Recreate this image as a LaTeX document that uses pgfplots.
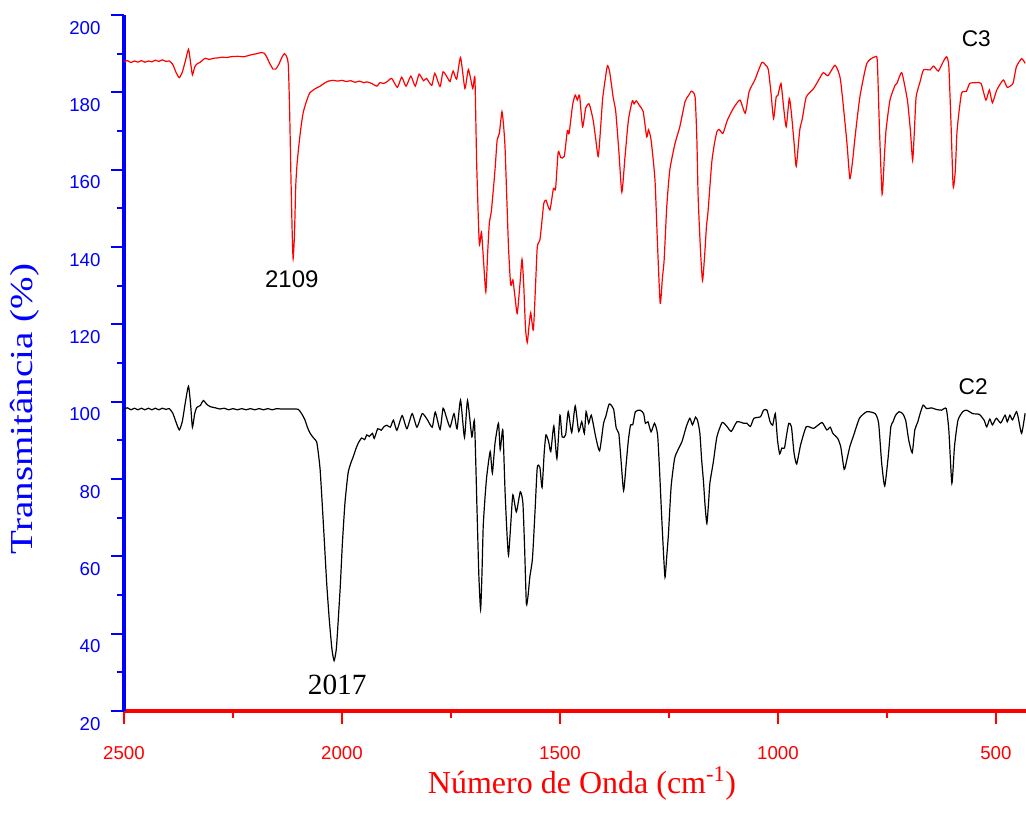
\documentclass[border=0pt]{standalone}
\usepackage{pgfplots}
\pgfplotsset{compat=1.18}
\usepackage{fontspec}
\setmainfont{Liberation Serif}
\newfontfamily\arial{Liberation Sans}
\begin{document}
\begin{tikzpicture}
\useasboundingbox (-93pt,-77.25pt) rectangle (676.5pt,533.25pt);
\begin{axis}[
  at={(0,0)}, anchor=south west,
  scale only axis, width=676.5pt, height=522pt,
  x dir=reverse,
  xmin=431, xmax=2500, ymin=20, ymax=200,
  axis x line=bottom, axis y line=left,
  x axis line style={-, red, line width=2.5pt},
  y axis line style={-, blue, line width=2.5pt},
  xtick={500,1000,1500,2000,2500}, minor x tick num=1,
  ytick={20,40,...,200}, minor y tick num=1,
  tick align=outside,
  major tick length=9.75pt, minor tick length=5.25pt,
  x tick style={red, line width=1.7pt},
  y tick style={blue, line width=1.7pt},
  /pgf/number format/assume math mode=true,
  /pgf/number format/1000 sep={},
  xticklabel style={font=\arial\fontsize{14}{14}\selectfont, red, anchor=north, inner sep=0pt, yshift=-16.5pt},
  yticklabel style={font=\arial\fontsize{14}{14}\selectfont, blue, anchor=north east, inner sep=0pt, xshift=-7.7pt, yshift=-4.5pt},
  every axis x label/.style={at={(axis description cs:0.5078,-0.1035)}, anchor=center, font=\fontsize{24}{24}\selectfont, red},
  every axis y label/.style={at={(axis description cs:-0.1098,0.4339)}, anchor=center, rotate=90, font=\fontsize{24}{24}\selectfont, blue},
  xlabel={Número de Onda (cm\textsuperscript{-1})},
  ylabel={\scalebox{1.22}[1]{Transmitância (\%)}},
  clip=false,
]
\addplot[red, line width=0.9pt, smooth, tension=0.35] coordinates {
(2500,187.9) (2492,188.2) (2484,187.7) (2476,188.1) (2468,187.8) (2460,188.2) (2452,187.8) (2444,188.1) (2436,187.9) (2428,188.3) (2420,188.0) (2412,188.4) (2404,188.0) (2396,188.1) (2388,187.2) (2380,185.0) (2373,183.8) (2366,185.3) (2359,188.2) (2352,191.1) (2347,187.5) (2343,184.5) (2338,186.5) (2333,187.3) (2325,187.8) (2314,188.8) (2305,188.5) (2295,188.8) (2285,188.9) (2275,189.1) (2265,189.0) (2255,189.2) (2245,189.3) (2235,189.3) (2225,189.2) (2215,189.5) (2205,189.8) (2195,190.0) (2185,190.3) (2178,190.1) (2172,189.0) (2165,187.3) (2158,186.0) (2152,186.0) (2145,187.2) (2138,189.0) (2132,190.0) (2127,189.3) (2123,187.0) (2120,175.0) (2117,158.0) (2114,143.0) (2112,137.0) (2109,143.0) (2106,155.8) (2103,161.5) (2099,166.1) (2094,171.0) (2089,174.7) (2082,177.5) (2074,179.8) (2062,180.9) (2050,181.6) (2040,182.4) (2031,182.9) (2020,183.1) (2010,182.9) (2000,183.1) (1990,182.8) (1980,183.0) (1970,182.6) (1960,182.9) (1950,182.5) (1943,182.7) (1932,182.3) (1920,181.6) (1913,182.5) (1905,182.3) (1897,182.7) (1886,183.6) (1873,181.3) (1863,183.9) (1853,181.6) (1842,184.2) (1832,181.6) (1823,184.7) (1813,183.0) (1806,183.6) (1794,181.8) (1787,184.9) (1775,181.5) (1768,185.3) (1756,183.4) (1752,182.8) (1745,185.5) (1737,183.4) (1728,189.0) (1718,181.0) (1710,185.9) (1700,181.0) (1695,183.6) (1691,161.6) (1685,140.9) (1680,143.9) (1675,136.0) (1670,128.4) (1666,138.0) (1662,146.1) (1657,149.6) (1649,159.9) (1644,167.7) (1639,169.4) (1633,175.0) (1629,171.0) (1626,165.9) (1622,153.0) (1618,140.0) (1613,130.2) (1608,131.5) (1603,127.0) (1598,122.8) (1592,130.0) (1587,136.8) (1583,130.0) (1579,119.0) (1575,115.3) (1571,119.5) (1567,123.0) (1561,118.5) (1556,130.0) (1552,140.0) (1546,141.8) (1541,147.0) (1537,151.3) (1532,152.1) (1523,149.6) (1515,155.1) (1510,155.1) (1504,164.6) (1498,163.1) (1490,163.5) (1483,170.1) (1479,169.4) (1471,176.7) (1465,179.3) (1460,178.0) (1455,179.2) (1448,171.1) (1441,175.9) (1433,177.0) (1424,172.9) (1418,168.0) (1412,163.4) (1406,172.0) (1402,178.4) (1396,183.5) (1391,186.9) (1386,185.3) (1378,178.8) (1372,175.0) (1365,165.0) (1358,154.2) (1351,163.0) (1343,172.8) (1334,177.8) (1330,177.0) (1325,177.8) (1317,176.5) (1309,175.0) (1301,168.5) (1297,170.3) (1291,167.7) (1282,157.3) (1276,140.0) (1270,125.4) (1265,132.0) (1261,136.6) (1255,150.4) (1248,159.9) (1236,166.8) (1225,171.1) (1213,177.6) (1205,179.2) (1198,180.3) (1190,178.8) (1186,168.0) (1183,153.0) (1178,140.0) (1173,131.3) (1168,138.0) (1164,145.2) (1160,149.6) (1152,161.6) (1146,166.5) (1140,169.8) (1135,170.4) (1126,169.4) (1116,172.8) (1102,175.9) (1087,178.0) (1075,174.6) (1066,180.2) (1053,183.2) (1037,187.7) (1028,187.0) (1022,185.9) (1016,180.0) (1010,173.2) (1004,178.8) (1000,179.2) (993,182.3) (987,176.2) (981,171.1) (974,178.4) (969,174.5) (963,167.0) (958,160.9) (950,170.2) (944,173.2) (935,178.8) (918,181.0) (905,183.5) (896,185.1) (885,184.3) (869,187.0) (857,183.6) (846,172.0) (841,166.0) (835,157.7) (829,162.0) (823,168.5) (812,178.8) (796,187.5) (777,189.2) (772,188.0) (767,170.2) (761,153.6) (756,163.0) (752,170.2) (743,178.0) (731,181.9) (727,182.3) (716,185.1) (705,179.3) (702,177.1) (696,170.0) (691,162.4) (687,170.0) (683,178.8) (674,182.7) (666,185.8) (651,185.8) (643,186.8) (632,185.5) (621,187.9) (613,189.2) (608,186.7) (603,172.0) (598,155.6) (593,160.0) (589,170.2) (579,179.7) (568,180.2) (560,182.3) (545,182.5) (534,182.3) (523,178.0) (515,180.6) (508,177.3) (498,180.6) (483,183.2) (474,181.3) (461,182.3) (453,186.6) (441,188.7) (433,187.5)
};
\addplot[black, line width=0.9pt, smooth, tension=0.35] coordinates {
(2500,98.1) (2492,98.4) (2484,97.9) (2476,98.3) (2468,97.9) (2460,98.3) (2452,97.9) (2444,98.3) (2436,97.9) (2428,98.3) (2420,97.9) (2412,98.3) (2404,98.0) (2396,98.2) (2388,97.0) (2380,94.5) (2373,92.7) (2366,95.0) (2359,100.0) (2352,104.0) (2347,99.0) (2343,93.4) (2338,96.8) (2333,98.5) (2325,99.0) (2318,100.3) (2310,99.3) (2302,98.7) (2290,98.4) (2280,98.1) (2270,98.3) (2260,97.9) (2250,98.2) (2240,97.9) (2230,98.2) (2220,97.9) (2210,98.2) (2200,97.9) (2190,98.2) (2180,97.9) (2170,98.2) (2160,97.9) (2150,98.2) (2140,98.1) (2130,98.1) (2120,98.1) (2110,98.1) (2100,98.0) (2092,96.8) (2085,95.3) (2079,93.3) (2073,91.8) (2065,90.6) (2058,89.6) (2054,86.5) (2050,82.3) (2045,73.0) (2041,65.1) (2035,53.0) (2029,43.5) (2023,36.0) (2018,33.0) (2013,36.0) (2009,42.7) (2004,52.0) (1999,63.4) (1993,74.0) (1986,81.5) (1980,84.0) (1974,85.8) (1968,87.8) (1963,89.2) (1955,90.6) (1948,90.2) (1943,91.4) (1937,91.0) (1930,91.8) (1926,90.5) (1918,93.0) (1910,92.6) (1904,93.5) (1897,93.9) (1889,93.4) (1882,95.2) (1874,92.6) (1862,96.4) (1851,93.0) (1839,96.9) (1828,93.4) (1816,96.9) (1805,95.5) (1793,93.4) (1786,97.3) (1775,92.8) (1768,98.3) (1760,95.8) (1752,93.4) (1743,96.9) (1736,93.0) (1728,100.4) (1719,90.8) (1712,100.3) (1702,90.9) (1696,94.8) (1690,71.1) (1686,55.0) (1682,46.3) (1679,55.0) (1676,67.7) (1672,75.0) (1668,80.6) (1660,87.1) (1655,81.5) (1649,89.2) (1641,94.4) (1637,87.6) (1631,92.7) (1626,77.1) (1622,67.0) (1618,60.3) (1613,68.0) (1608,75.9) (1600,71.5) (1591,76.7) (1585,73.8) (1581,62.0) (1577,47.7) (1573,50.0) (1569,54.7) (1563,59.5) (1557,72.0) (1552,83.0) (1546,83.0) (1541,77.8) (1536,87.0) (1532,91.4) (1526,89.7) (1521,87.1) (1514,93.7) (1507,85.3) (1500,96.5) (1495,90.9) (1487,91.4) (1481,97.4) (1473,92.0) (1465,98.9) (1457,92.3) (1450,94.8) (1444,91.8) (1440,97.4) (1434,94.4) (1428,96.5) (1418,90.9) (1409,87.3) (1400,94.4) (1395,96.1) (1387,99.4) (1377,98.1) (1371,93.2) (1365,91.8) (1360,85.0) (1354,77.0) (1348,84.0) (1343,90.1) (1338,94.0) (1333,94.0) (1327,97.4) (1316,97.8) (1308,96.9) (1304,94.4) (1298,94.8) (1291,92.2) (1283,94.4) (1276,91.4) (1271,81.0) (1267,71.1) (1263,62.0) (1259,54.6) (1255,60.0) (1251,66.0) (1245,78.0) (1237,85.3) (1229,87.6) (1220,89.7) (1210,93.6) (1202,95.7) (1196,94.0) (1189,96.0) (1184,95.0) (1179,91.8) (1175,85.0) (1171,79.7) (1167,73.0) (1163,68.5) (1159,74.0) (1156,79.0) (1148,84.5) (1140,90.9) (1128,94.6) (1117,93.6) (1107,92.3) (1094,94.8) (1078,94.4) (1071,94.4) (1063,93.6) (1055,95.7) (1040,96.1) (1033,97.8) (1025,97.8) (1018,94.8) (1012,93.9) (1006,96.9) (1001,90.1) (996,86.5) (991,88.0) (985,88.0) (980,91.5) (975,94.4) (969,93.5) (963,86.7) (957,83.9) (948,88.8) (935,93.5) (918,93.1) (899,94.6) (888,92.7) (880,93.4) (874,91.8) (863,90.5) (856,88.4) (848,82.5) (842,84.9) (835,88.4) (826,91.4) (813,95.7) (796,97.4) (777,96.9) (769,94.4) (762,84.1) (755,78.2) (747,85.8) (741,93.5) (736,94.8) (730,96.5) (722,97.4) (714,96.9) (707,95.2) (700,90.1) (692,86.8) (686,92.7) (679,94.8) (675,96.5) (667,99.1) (659,98.2) (648,98.4) (637,98.0) (625,97.8) (614,98.2) (608,92.7) (601,78.9) (595,88.4) (587,95.2) (576,97.4) (567,97.8) (553,96.9) (538,96.7) (527,95.2) (521,93.5) (514,95.5) (508,94.0) (499,95.7) (489,94.5) (479,96.5) (474,94.8) (468,96.5) (462,95.3) (453,97.4) (449,96.0) (441,91.8) (433,97.0)
};
\node[font=\arial\fontsize{18}{18}\selectfont, inner sep=0pt] at (axis cs:2115,131.6) {2109};
\node[font=\fontsize{22}{22}\selectfont, inner sep=0pt] at (axis cs:2011,26.7) {2017};
\node[font=\arial\fontsize{17}{17}\selectfont, inner sep=0pt] at (axis cs:545,193.8) {C3};
\node[font=\arial\fontsize{17}{17}\selectfont, inner sep=0pt] at (axis cs:552,104.0) {C2};
\end{axis}
\end{tikzpicture}
\end{document}
